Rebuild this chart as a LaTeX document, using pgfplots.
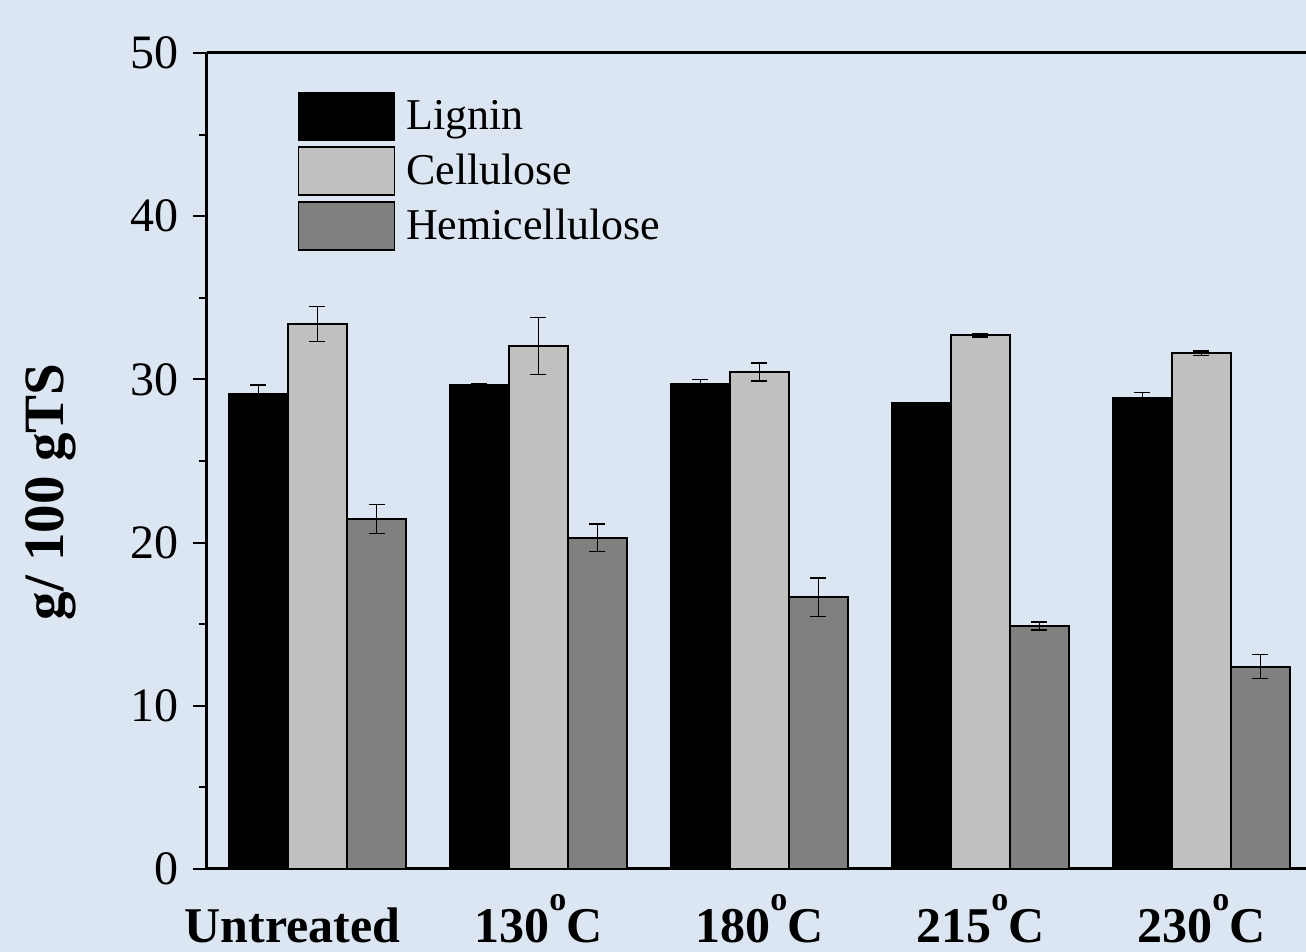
\documentclass[border=0pt]{standalone}
\usepackage{pgfplots}
\pgfplotsset{compat=1.18}
\usepackage{fontspec}
\setmainfont{Liberation Serif}
\definecolor{bg}{RGB}{220,230,242}
\definecolor{cellc}{RGB}{192,192,192}
\definecolor{hemic}{RGB}{128,128,128}

\pgfplotstableread{
x y e
0 29.10 0.55
1 29.66 0.10
2 29.72 0.27
3 28.53 0.05
4 28.88 0.33
}\lignin
\pgfplotstableread{
x y e
0 33.40 1.07
1 32.05 1.74
2 30.45 0.56
3 32.70 0.10
4 31.60 0.13
}\cellulose
\pgfplotstableread{
x y e
0 21.45 0.90
1 20.30 0.84
2 16.65 1.18
3 14.89 0.25
4 12.40 0.74
}\hemi

\newcommand{\degC}{\raisebox{16pt}{\fontsize{17}{17}\selectfont o}C}

\begin{document}
\begin{tikzpicture}[x=1pt,y=1pt]
\fill[bg] (-103.5,-41.5) rectangle (549.5,434.5);
\useasboundingbox (-103.5,-41.5) rectangle (549.5,434.5);
\begin{axis}[
  at={(0,0)}, anchor=south west,
  scale only axis, width=549.5pt, height=408pt,
  xmin=-0.5, xmax=4.473, ymin=0, ymax=50,
  axis x line*=box, axis y line*=left,
  axis line style={line width=1.5pt, black},
  ybar=0pt, bar width=0.267,
  xtick={0,1,2,3,4},
  xticklabels={Untreated\hspace*{25pt}, 130\degC, 180\degC, 215\degC, 230\degC},
  xtick style={draw=none},
  xticklabel style={font=\bfseries\fontsize{25}{30}\selectfont, anchor=base, yshift=-30pt},
  ytick={0,10,20,30,40,50},
  minor y tick num=1,
  tick align=outside,
  major tick length=7pt, minor tick length=4pt,
  every tick/.style={black, line width=1pt},
  yticklabel style={font=\fontsize{24}{28}\selectfont, xshift=-3.5pt},
  /pgf/number format/assume math mode=true,
  ylabel={g/ 100 gTS},
  ylabel style={font=\bfseries\fontsize{28.5}{33}\selectfont, at={(axis description cs:-0.142,0.462)}, anchor=center},
  legend cell align=left,
  legend style={at={(axis description cs:0.082,0.953)}, anchor=north west, draw=none, fill=none,
    font=\fontsize{22}{26}\selectfont, inner sep=0pt, row sep=2.5pt, nodes={inner sep=1.5pt}},
  legend image code/.code={\draw[#1,line width=0.8pt,draw=black] (0pt,-12pt) rectangle (48pt,12pt);},
]
\addplot[fill=black, draw=black, line width=1pt,
  error bars/.cd, y dir=both, y explicit,
  error bar style={line width=0.7pt, draw=black, solid},
  error mark options={rotate=90, mark size=4pt, line width=0.7pt, draw=black}]
  table[x=x, y=y, y error=e] {\lignin};
\addlegendentry{\hspace*{4pt}Lignin}
\addplot[fill=cellc, draw=black, line width=1pt,
  error bars/.cd, y dir=both, y explicit,
  error bar style={line width=0.7pt, draw=black, solid},
  error mark options={rotate=90, mark size=4pt, line width=0.7pt, draw=black}]
  table[x=x, y=y, y error=e] {\cellulose};
\addlegendentry{\hspace*{4pt}Cellulose}
\addplot[fill=hemic, draw=black, line width=1pt,
  error bars/.cd, y dir=both, y explicit,
  error bar style={line width=0.7pt, draw=black, solid},
  error mark options={rotate=90, mark size=4pt, line width=0.7pt, draw=black}]
  table[x=x, y=y, y error=e] {\hemi};
\addlegendentry{\hspace*{4pt}Hemicellulose}
\end{axis}
\end{tikzpicture}
\end{document}
